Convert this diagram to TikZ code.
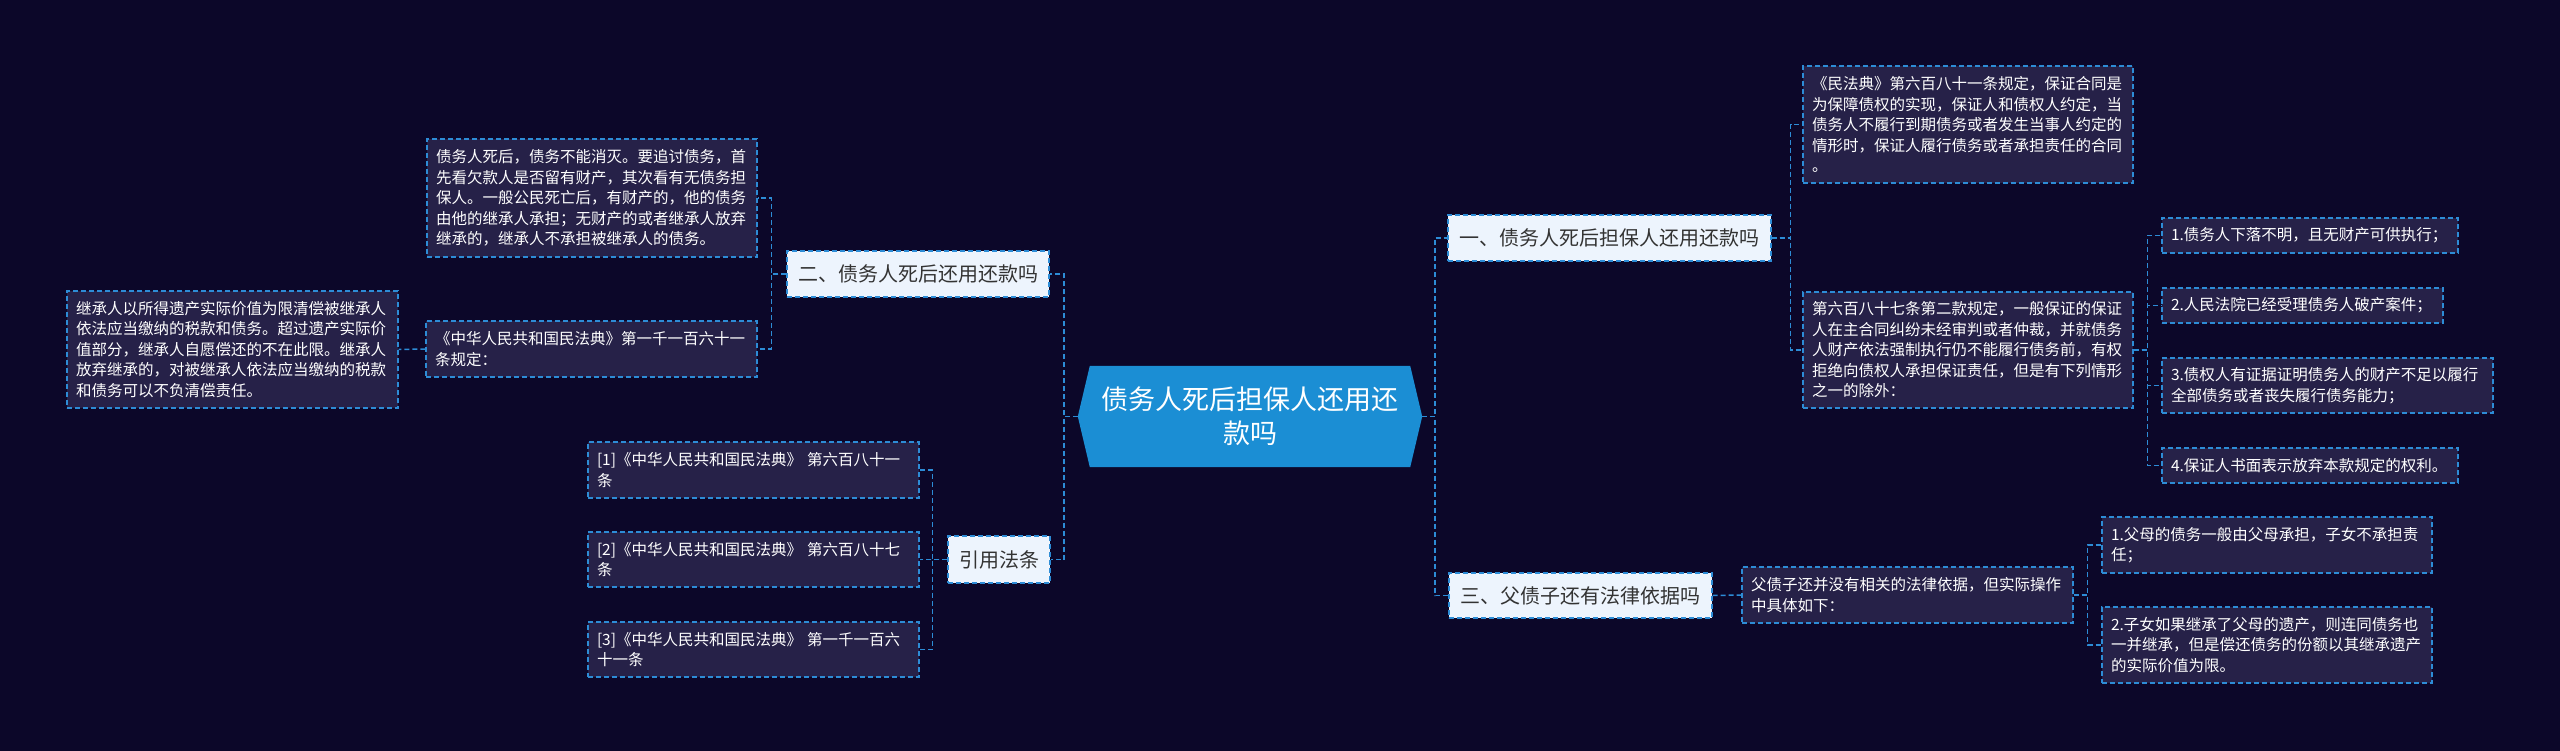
\documentclass[tikz,border=0pt]{standalone}
\usepackage{fontspec}
\setmainfont{Noto Sans CJK SC}
\usetikzlibrary{backgrounds}
\definecolor{bgc}{HTML}{0C0729}
\definecolor{boxc}{HTML}{262148}
\definecolor{linec}{HTML}{2D8CD6}
\definecolor{hexc}{HTML}{1B8ED4}
\definecolor{lightc}{HTML}{EDF4FD}
\definecolor{darktext}{HTML}{333333}
\tikzset{
  conn/.style={draw=linec, line width=1.5pt, dash pattern=on 5pt off 3pt},
  subbox/.style={draw=linec, line width=1.3pt, dash pattern=on 5pt off 3pt, fill=boxc, text=white,
    font=\fontsize{15.5}{20.5}\selectfont, align=left, inner xsep=9pt, inner ysep=0pt},
  topicbox/.style={draw=linec, line width=1.3pt, dash pattern=on 5pt off 3pt, fill=lightc, text=darktext,
    font=\fontsize{20}{24}\selectfont, inner xsep=0pt, inner ysep=0pt, align=center},
  rootnode/.style={text=white, font=\fontsize{27}{34}\selectfont, align=center, inner sep=0pt,
    minimum width=344pt, minimum height=101pt},
}
\begin{document}
\begin{tikzpicture}[x=1pt,y=-1pt]
\begin{scope}[on background layer]
\fill[bgc] (0,0) rectangle (2560,751);
\end{scope}
\useasboundingbox (0,0) rectangle (2560,751);

% root
\node[rootnode] (root) at (1250,416.5) {债务人死后担保人还用还\\款吗};
\begin{scope}[on background layer]
\fill[hexc] ([xshift=12pt]root.north west) -- ([xshift=-12pt]root.north east) -- (root.east)
  -- ([xshift=-12pt]root.south east) -- ([xshift=12pt]root.south west) -- (root.west) -- cycle;
\end{scope}

% topics
\node[topicbox, minimum width=323pt, minimum height=46pt] (n1) at (1609.5,238) {一、债务人死后担保人还用还款吗};
\node[topicbox, minimum width=263pt, minimum height=45pt] (n3) at (1580.5,595.5) {三、父债子还有法律依据吗};
\node[topicbox, minimum width=262pt, minimum height=46pt] (n2) at (918,274) {二、债务人死后还用还款吗};
\node[topicbox, minimum width=102pt, minimum height=47pt] (nr) at (999,559.5) {引用法条};

% right side boxes
\node[subbox, text width=312pt, minimum height=117pt] (a1) at (1968,124.5)
  {《民法典》第六百八十一条规定，保证合同是\\为保障债权的实现，保证人和债权人约定，当\\债务人不履行到期债务或者发生当事人约定的\\情形时，保证人履行债务或者承担责任的合同\\。};
\node[subbox, text width=312pt, minimum height=116pt] (a2) at (1968,350)
  {第六百八十七条第二款规定，一般保证的保证\\人在主合同纠纷未经审判或者仲裁，并就债务\\人财产依法强制执行仍不能履行债务前，有权\\拒绝向债权人承担保证责任，但是有下列情形\\之一的除外：};
\node[subbox, text width=278pt, minimum height=35pt] (b1) at (2310,235.5) {1.债务人下落不明，且无财产可供执行；};
\node[subbox, text width=263pt, minimum height=35pt] (b2) at (2302.5,305.5) {2.人民法院已经受理债务人破产案件；};
\node[subbox, text width=313pt, minimum height=55pt] (b3) at (2327.5,385.5) {3.债权人有证据证明债务人的财产不足以履行\\全部债务或者丧失履行债务能力；};
\node[subbox, text width=278pt, minimum height=35pt] (b4) at (2310,465.5) {4.保证人书面表示放弃本款规定的权利。};
\node[subbox, text width=313pt, minimum height=56pt] (c3) at (1907.5,595) {父债子还并没有相关的法律依据，但实际操作\\中具体如下：};
\node[subbox, text width=312pt, minimum height=56pt] (d1) at (2267,545) {1.父母的债务一般由父母承担，子女不承担责\\任；};
\node[subbox, text width=312pt, minimum height=76pt] (d2) at (2267,645) {2.子女如果继承了父母的遗产，则连同债务也\\一并继承，但是偿还债务的份额以其继承遗产\\的实际价值为限。};

% left side boxes
\node[subbox, text width=312pt, minimum height=118pt] (e1) at (592,198)
  {债务人死后，债务不能消灭。要追讨债务，首\\先看欠款人是否留有财产，其次看有无债务担\\保人。一般公民死亡后，有财产的，他的债务\\由他的继承人承担；无财产的或者继承人放弃\\继承的，继承人不承担被继承人的债务。};
\node[subbox, text width=313pt, minimum height=56pt] (e2) at (591.5,349) {《中华人民共和国民法典》第一千一百六十一\\条规定：};
\node[subbox, text width=313pt, minimum height=117pt] (f) at (232.5,349.5)
  {继承人以所得遗产实际价值为限清偿被继承人\\依法应当缴纳的税款和债务。超过遗产实际价\\值部分，继承人自愿偿还的不在此限。继承人\\放弃继承的，对被继承人依法应当缴纳的税款\\和债务可以不负清偿责任。};
\node[subbox, text width=313pt, minimum height=56pt] (g1) at (753.5,470) {[1]《中华人民共和国民法典》~第六百八十一\\条};
\node[subbox, text width=313pt, minimum height=55pt] (g2) at (753.5,559.5) {[2]《中华人民共和国民法典》~第六百八十七\\条};
\node[subbox, text width=313pt, minimum height=55pt] (g3) at (753.5,649.5) {[3]《中华人民共和国民法典》~第一千一百六\\十一条};

% connectors right
\draw[conn] (root.east) -- ++(13,0) |- (n1.west);
\draw[conn] (root.east) -- ++(13,0) |- (n3.west);
\draw[conn] (n1.east) -- ++(19,0) |- (a1.west);
\draw[conn] (n1.east) -- ++(19,0) |- (a2.west);
\draw[conn] (a2.east) -- ++(14,0) |- (b1.west);
\draw[conn] (a2.east) -- ++(14,0) |- (b2.west);
\draw[conn] (a2.east) -- ++(14,0) |- (b3.west);
\draw[conn] (a2.east) -- ++(14,0) |- (b4.west);
\draw[conn] (n3.east) -- (c3.west);
\draw[conn] (c3.east) -- ++(14,0) |- (d1.west);
\draw[conn] (c3.east) -- ++(14,0) |- (d2.west);

% connectors left
\draw[conn] (root.west) -- ++(-14,0) |- (n2.east);
\draw[conn] (root.west) -- ++(-14,0) |- (nr.east);
\draw[conn] (n2.west) -- ++(-15,0) |- (e1.east);
\draw[conn] (n2.west) -- ++(-15,0) |- (e2.east);
\draw[conn] (e2.west) -- (f.east);
\draw[conn] (nr.west) -- ++(-15,0) |- (g1.east);
\draw[conn] (nr.west) -- ++(-15,0) |- (g2.east);
\draw[conn] (nr.west) -- ++(-15,0) |- (g3.east);
\end{tikzpicture}
\end{document}
